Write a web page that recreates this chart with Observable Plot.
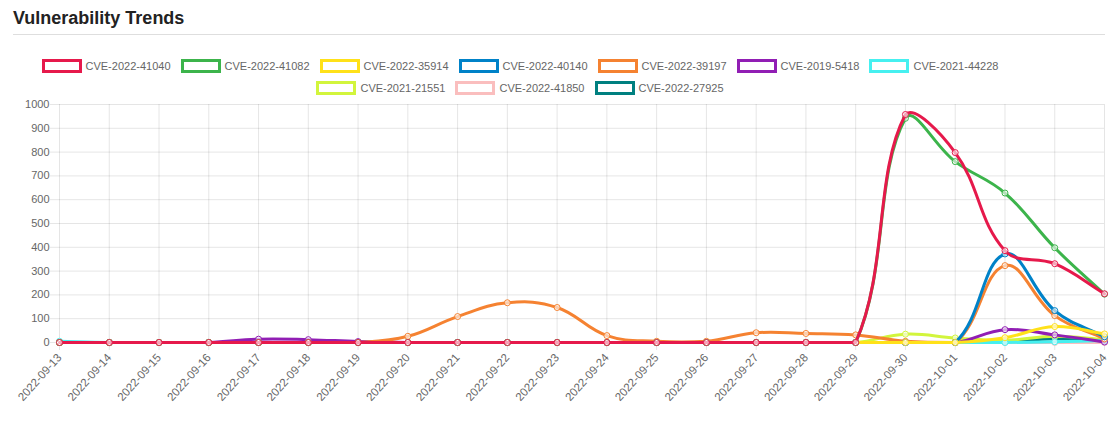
<!DOCTYPE html>
<html>
<head>
<meta charset="utf-8">
<script src="https://cdn.jsdelivr.net/npm/d3@7"></script>
<script src="https://cdn.jsdelivr.net/npm/@observablehq/plot@0.6"></script>
<style>
  html, body { margin: 0; padding: 0; background: #fff; }
  body { width: 1118px; height: 428px; position: relative; overflow: hidden; font-family: "Liberation Sans", Arial, sans-serif; }
  #title { position: absolute; left: 13px; top: 7px; font-size: 18px; font-weight: bold; color: #222; line-height: 22px; }
  #rule { position: absolute; left: 13px; top: 34px; width: 1092px; height: 1px; background: #dedede; }
  .lrow { position: absolute; left: 0; width: 1040px; height: 14px; display: flex; justify-content: center; align-items: center; font-size: 11px; color: #666; }
  .item { display: flex; align-items: center; margin-right: 10px; white-space: nowrap; }
  .item:last-child { margin-right: 0; }
  .box { box-sizing: border-box; width: 40px; height: 14px; border: 3px solid; background: #fff; margin-right: 4px; }
  #chart { position: absolute; left: 0; top: 96px; }
</style>
</head>
<body>
<div id="title">Vulnerability Trends</div>
<div id="rule"></div>
<div class="lrow" id="row1" style="top:59px"></div>
<div class="lrow" id="row2" style="top:81px"></div>
<div id="chart"></div>
<script>
const dates = ["2022-09-13","2022-09-14","2022-09-15","2022-09-16","2022-09-17","2022-09-18","2022-09-19","2022-09-20","2022-09-21","2022-09-22","2022-09-23","2022-09-24","2022-09-25","2022-09-26","2022-09-27","2022-09-28","2022-09-29","2022-09-30","2022-10-01","2022-10-02","2022-10-03","2022-10-04"];
const seriesNames = ["CVE-2022-41040","CVE-2022-41082","CVE-2022-35914","CVE-2022-40140","CVE-2022-39197","CVE-2019-5418","CVE-2021-44228","CVE-2021-21551","CVE-2022-41850","CVE-2022-27925"];
const seriesColors = ["#e6194b","#3cb44b","#ffe119","#0082c8","#f58231","#911eb4","#46f0f0","#d2f53c","#fabebe","#008080"];
const yTicks = [0,100,200,300,400,500,600,700,800,900,1000];

const cve_2022_41040 = [0,0,0,0,0,0,0,0,0,0,0,0,0,0,0,0,0,958,798,386,331,205];
const cve_2022_41082 = [0,0,0,0,0,0,0,0,0,0,0,0,0,0,0,0,0,942,760,628,398,203];
const cve_2022_35914 = [0,0,0,0,0,0,0,0,0,0,0,0,0,0,0,0,0,0,0,20,67,36];
const cve_2022_40140 = [0,0,0,0,0,0,0,0,0,0,0,0,0,0,0,0,0,0,0,372,134,24];
const cve_2022_39197 = [0,0,0,0,0,0,0,26,109,167,147,29,5,5,41,38,32,5,0,323,113,15];
const cve_2019_5418  = [0,0,0,0,14,12,4,0,0,0,0,0,0,0,0,0,0,0,0,54,32,2];
const cve_2021_44228 = [5,0,0,0,0,0,0,0,0,0,0,0,0,0,0,0,0,0,0,0,3,8];
const cve_2021_21551 = [0,0,0,0,0,0,0,0,0,0,0,0,0,0,0,0,0,35,19,9,26,12];
const cve_2022_41850 = [0,0,0,0,0,0,0,0,0,0,0,0,0,0,0,0,0,0,0,0,0,0];
const cve_2022_27925 = [0,0,0,0,0,0,0,0,0,0,0,0,0,0,0,0,0,0,0,3,16,5];
const seriesValues = [cve_2022_41040, cve_2022_41082, cve_2022_35914, cve_2022_40140, cve_2022_39197, cve_2019_5418, cve_2021_44228, cve_2021_21551, cve_2022_41850, cve_2022_27925];

// legend
seriesNames.forEach((name, i) => {
  const row = document.getElementById(i < 7 ? "row1" : "row2");
  const item = document.createElement("div");
  item.className = "item";
  const box = document.createElement("div");
  box.className = "box";
  box.style.borderColor = seriesColors[i];
  const label = document.createElement("span");
  label.textContent = name;
  item.appendChild(box);
  item.appendChild(label);
  row.appendChild(item);
});

const W = 1118, H = 332, mL = 59, mR = 14, mT = 8, mB = 86;

// Chart.js-style spline (tension 0.4) with control points capped to the chart area
function splineCurve(tension, left, right, top, bottom) {
  return function(context) {
    let pts = [];
    return {
      areaStart() {}, areaEnd() {},
      lineStart() { pts = []; },
      point(x, y) { pts.push([+x, +y]); },
      lineEnd() {
        const n = pts.length;
        if (!n) return;
        const clamp = (x, y) => [Math.max(left, Math.min(right, x)), Math.max(top, Math.min(bottom, y))];
        const cps = pts.map((p, i) => {
          const prev = pts[i - 1] || p, next = pts[i + 1] || p;
          const d01 = Math.hypot(p[0] - prev[0], p[1] - prev[1]);
          const d12 = Math.hypot(next[0] - p[0], next[1] - p[1]);
          let s01 = d01 / (d01 + d12), s12 = d12 / (d01 + d12);
          if (isNaN(s01)) s01 = 0;
          if (isNaN(s12)) s12 = 0;
          const fa = tension * s01, fb = tension * s12;
          const dx = next[0] - prev[0], dy = next[1] - prev[1];
          return { prev: clamp(p[0] - fa * dx, p[1] - fa * dy), next: clamp(p[0] + fb * dx, p[1] + fb * dy) };
        });
        context.moveTo(pts[0][0], pts[0][1]);
        for (let i = 1; i < n; i++) {
          context.bezierCurveTo(cps[i - 1].next[0], cps[i - 1].next[1], cps[i].prev[0], cps[i].prev[1], pts[i][0], pts[i][1]);
        }
      }
    };
  };
}
const curve = splineCurve(0.4, mL, W - mR, mT, H - mB);

const seriesMarks = [];
for (let s = seriesNames.length - 1; s >= 0; s--) {
  const rows = dates.map((d, i) => ({date: d, value: seriesValues[s][i], series: seriesNames[s]}));
  seriesMarks.push(Plot.line(rows, {x: "date", y: "value", stroke: "series", strokeWidth: 3, curve}));
  seriesMarks.push(Plot.dot(rows, {x: "date", y: "value", stroke: "series", r: 3, strokeWidth: 1, fill: "white", fillOpacity: 0.6}));
}

const chart = Plot.plot({
  width: W, height: H,
  marginLeft: mL, marginRight: mR, marginTop: mT, marginBottom: mB,
  x: {type: "point", domain: dates, padding: 0, round: false},
  y: {domain: [0, 1000]},
  color: {domain: seriesNames, range: seriesColors},
  style: {fontFamily: "'Liberation Sans', Arial, sans-serif", fontSize: "11px", color: "#666", background: "white", overflow: "visible"},
  marks: [
    Plot.gridX(dates, {x: d => d, stroke: "#000", strokeOpacity: 0.1}),
    Plot.gridY(yTicks, {stroke: "#000", strokeOpacity: 0.1}),
    Plot.axisY(yTicks, {tickSize: 9, tickPadding: 1, tickFormat: d => String(d), stroke: "#e6e6e6", fill: "#666", fontSize: 11, label: null}),
    Plot.axisX(dates, {tickSize: 8, tickPadding: 5, tickRotate: -48, stroke: "#e6e6e6", fill: "#666", fontSize: 11.5, label: null}),
    Plot.ruleY([0], {stroke: "#000", strokeOpacity: 0.25}),
    ...seriesMarks
  ]
});
document.getElementById("chart").appendChild(chart);
</script>
</body>
</html>
